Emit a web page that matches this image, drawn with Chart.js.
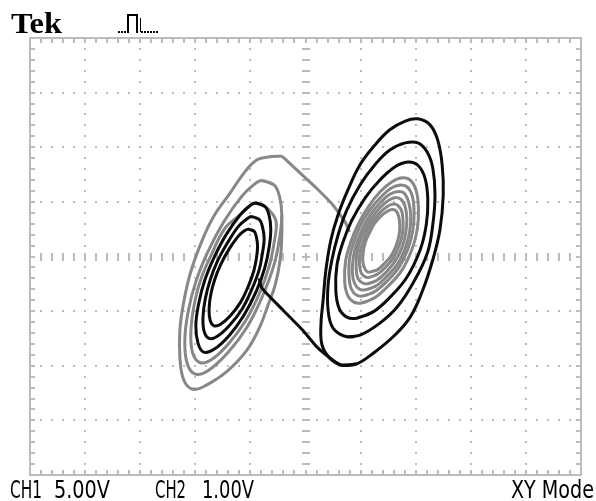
<!DOCTYPE html>
<html lang="en">
<head>
<meta charset="utf-8">
<title>Tek XY Mode</title>
<script src="https://cdn.jsdelivr.net/npm/chart.js@4.4.1/dist/chart.umd.min.js"></script>
<style>
  html, body { margin: 0; padding: 0; background: #fff; }
  #scope { display: block; }
</style>
</head>
<body>
<canvas id="scope" width="596" height="501"></canvas>
<script>
// screen is 10 x 8 divisions; every value is in divisions (X = CH1, Y = CH2)
const X_DIVS = 5, Y_DIVS = 4;
const CHANNEL_LABELS = ['CH1', '5.00V', 'CH2', '1.00V'];
const MODE_LABEL = 'XY Mode';
const BRAND = 'Tek';

// left scroll, black turns (inside out)
const lb1 = [[-1.04,0.50],[-0.93,0.46],[-0.89,0.35],[-0.87,0.19],[-0.89,-0.03],[-0.94,-0.27],[-1.04,-0.55],[-1.18,-0.84],[-1.36,-1.08],[-1.54,-1.24],[-1.66,-1.27],[-1.73,-1.17],[-1.75,-0.96],[-1.72,-0.70],[-1.65,-0.43],[-1.54,-0.15],[-1.39,0.13],[-1.23,0.36],[-1.11,0.47],[-1.04,0.50],[-0.93,0.46]];
const lb2 = [[-0.98,0.73],[-0.84,0.68],[-0.78,0.54],[-0.75,0.33],[-0.78,0.07],[-0.84,-0.24],[-0.97,-0.59],[-1.15,-0.96],[-1.37,-1.25],[-1.60,-1.46],[-1.75,-1.50],[-1.84,-1.37],[-1.86,-1.11],[-1.82,-0.78],[-1.73,-0.43],[-1.60,-0.09],[-1.41,0.26],[-1.21,0.56],[-1.06,0.69],[-0.98,0.73],[-0.84,0.68]];
const lb3 = [[-0.91,0.98],[-0.74,0.92],[-0.66,0.75],[-0.63,0.50],[-0.66,0.17],[-0.74,-0.21],[-0.89,-0.63],[-1.12,-1.08],[-1.38,-1.44],[-1.66,-1.70],[-1.85,-1.75],[-1.95,-1.59],[-1.99,-1.27],[-1.94,-0.87],[-1.83,-0.44],[-1.66,-0.02],[-1.44,0.40],[-1.18,0.77],[-1.01,0.93],[-0.91,0.98],[-0.74,0.92]];

// left scroll, gray turns
const lg1 = [[-0.91,0.98],[-0.74,0.92],[-0.60,0.78],[-0.53,0.62],[-0.57,0.25],[-0.66,-0.18],[-0.83,-0.66],[-1.09,-1.18],[-1.40,-1.60],[-1.71,-1.89],[-1.92,-1.94],[-2.05,-1.76],[-2.08,-1.39],[-2.03,-0.94],[-1.91,-0.45],[-1.71,0.03],[-1.46,0.52],[-1.18,0.77],[-1.01,0.93],[-0.91,0.98]];
const lg2 = [[-0.79,1.39],[-0.57,1.31],[-0.47,1.09],[-0.43,0.76],[-0.47,0.34],[-0.57,-0.15],[-0.77,-0.70],[-1.06,-1.29],[-1.41,-1.76],[-1.77,-2.09],[-2.01,-2.15],[-2.15,-1.95],[-2.19,-1.53],[-2.13,-1.01],[-1.99,-0.46],[-1.77,0.09],[-1.48,0.64],[-1.15,1.11],[-0.92,1.33],[-0.79,1.39],[-0.57,1.31]];
const lg3 = [[-0.43,0.76],[-0.43,0.39],[-0.46,-0.06],[-0.55,-0.52],[-0.68,-0.89],[-0.83,-1.29],[-1.06,-1.71],[-1.42,-2.10],[-1.79,-2.35],[-2.04,-2.43],[-2.21,-2.26],[-2.28,-1.84],[-2.28,-1.35],[-2.22,-0.89],[-2.10,-0.34],[-1.91,0.21],[-1.68,0.71],[-1.37,1.16],[-1.10,1.55],[-0.88,1.77],[-0.68,1.82],[-0.43,1.84]];

// jumps between the scrolls
const grayLink = [[-0.43,1.84],[-0.10,1.53],[0.21,1.24],[0.50,0.94],[0.72,0.63],[0.80,0.45]];
const blackLink = [[-0.84,-0.40],[-0.79,-0.58],[-0.41,-0.98],[-0.05,-1.35],[0.21,-1.66],[0.50,-1.90],[0.66,-1.99],[0.92,-1.97]];

// right scroll, black turns (outside in)
const rb1 = [[0.66,-1.99],[0.92,-1.97],[1.23,-1.77],[1.59,-1.47],[1.90,-1.11],[2.13,-0.61],[2.31,-0.06],[2.44,0.49],[2.50,1.13],[2.48,1.68],[2.40,2.13],[2.26,2.41],[2.04,2.52],[1.81,2.48],[1.53,2.32],[1.26,2.04],[0.99,1.68],[0.77,1.22],[0.59,0.76],[0.46,0.30],[0.37,-0.25],[0.32,-0.80],[0.28,-1.25],[0.30,-1.62],[0.44,-1.86],[0.66,-1.99],[0.92,-1.97]];
const rb2 = [[0.75,-1.47],[0.99,-1.44],[1.35,-1.22],[1.66,-0.93],[1.95,-0.49],[2.21,0.06],[2.31,0.58],[2.35,1.13],[2.31,1.62],[2.21,1.91],[2.04,2.08],[1.81,2.08],[1.53,1.95],[1.26,1.68],[0.99,1.31],[0.75,0.85],[0.59,0.39],[0.48,-0.06],[0.41,-0.52],[0.41,-0.98],[0.50,-1.31],[0.75,-1.47],[0.99,-1.44]];
const rb3 = [[0.93,-1.13],[1.22,-1.02],[1.53,-0.75],[1.84,-0.38],[2.08,0.12],[2.19,0.57],[2.22,1.03],[2.17,1.43],[2.04,1.67],[1.86,1.73],[1.62,1.64],[1.35,1.40],[1.08,1.07],[0.84,0.66],[0.68,0.26],[0.57,-0.16],[0.55,-0.62],[0.61,-0.95],[0.75,-1.11],[0.93,-1.13],[1.22,-1.02]];

// right scroll, gray turns
const rg1 = [[1.02,-0.85],[1.25,-0.76],[1.50,-0.54],[1.75,-0.25],[1.94,0.15],[2.03,0.51],[2.05,0.88],[2.01,1.20],[1.91,1.39],[1.76,1.44],[1.57,1.37],[1.35,1.18],[1.14,0.91],[0.95,0.58],[0.82,0.26],[0.73,-0.07],[0.71,-0.44],[0.76,-0.70],[0.87,-0.83],[1.02,-0.85],[1.25,-0.76]];
const rg2 = [[1.06,-0.72],[1.26,-0.64],[1.48,-0.45],[1.70,-0.19],[1.87,0.17],[1.95,0.49],[1.97,0.81],[1.94,1.10],[1.85,1.27],[1.72,1.31],[1.55,1.25],[1.36,1.08],[1.16,0.84],[0.99,0.55],[0.88,0.27],[0.80,-0.03],[0.79,-0.36],[0.83,-0.59],[0.93,-0.71],[1.06,-0.72],[1.26,-0.64]];
const rg3 = [[1.09,-0.61],[1.28,-0.54],[1.47,-0.37],[1.67,-0.14],[1.82,0.18],[1.89,0.46],[1.91,0.75],[1.87,1.00],[1.79,1.16],[1.68,1.19],[1.53,1.14],[1.36,0.99],[1.19,0.78],[1.04,0.52],[0.94,0.27],[0.87,0.00],[0.85,-0.29],[0.89,-0.49],[0.98,-0.60],[1.09,-0.61],[1.28,-0.54]];
const rg4 = [[1.13,-0.50],[1.29,-0.44],[1.46,-0.29],[1.63,-0.08],[1.76,0.19],[1.82,0.44],[1.84,0.69],[1.81,0.91],[1.74,1.04],[1.64,1.08],[1.51,1.03],[1.36,0.90],[1.21,0.71],[1.08,0.49],[0.99,0.27],[0.93,0.04],[0.92,-0.22],[0.95,-0.40],[1.03,-0.48],[1.13,-0.50],[1.29,-0.44]];
const rg5 = [[1.16,-0.38],[1.30,-0.33],[1.45,-0.20],[1.59,-0.03],[1.70,0.20],[1.76,0.42],[1.77,0.63],[1.75,0.82],[1.68,0.93],[1.60,0.96],[1.49,0.92],[1.36,0.81],[1.23,0.65],[1.12,0.46],[1.05,0.27],[0.99,0.07],[0.98,-0.14],[1.01,-0.30],[1.08,-0.37],[1.16,-0.38],[1.30,-0.33]];
const rg6 = [[1.19,-0.28],[1.31,-0.24],[1.43,-0.13],[1.56,0.02],[1.65,0.22],[1.70,0.40],[1.71,0.58],[1.69,0.74],[1.64,0.84],[1.57,0.86],[1.47,0.82],[1.36,0.73],[1.25,0.60],[1.16,0.43],[1.09,0.27],[1.05,0.10],[1.04,-0.08],[1.07,-0.21],[1.12,-0.28],[1.19,-0.28],[1.31,-0.24]];

const BLACK = '#0c0c0c';
const GRAY = '#878787';
const GRID = '#bcbcbc';

function trace(points, color, tension) {
  return {
    data: points.map(function(p) { return {x: p[0], y: p[1]}; }),
    showLine: true,
    borderColor: color,
    borderWidth: 3,
    pointRadius: 0,
    tension: tension,
    order: color === BLACK ? 0 : 1
  };
}

// graticule, border ticks and the scope's readouts
const screenPlugin = {
  id: 'screen',
  beforeDatasetsDraw: function(chart) {
    const ctx = chart.ctx, a = chart.chartArea;
    const xs = chart.scales.x, ys = chart.scales.y;
    ctx.save();
    ctx.fillStyle = GRID;
    // dotted division lines, five dots per division
    for (let i = -X_DIVS + 1; i < X_DIVS; i++) {
      if (i === 0) continue;
      const px = Math.round(xs.getPixelForValue(i));
      for (let k = -Y_DIVS * 5 + 1; k < Y_DIVS * 5; k++) {
        ctx.fillRect(px - 1, Math.round(ys.getPixelForValue(k / 5)) - 1, 2, 2);
      }
    }
    for (let j = -Y_DIVS + 1; j < Y_DIVS; j++) {
      if (j === 0) continue;
      const py = Math.round(ys.getPixelForValue(j));
      for (let k = -X_DIVS * 5 + 1; k < X_DIVS * 5; k++) {
        ctx.fillRect(Math.round(xs.getPixelForValue(k / 5)) - 1, py - 1, 2, 2);
      }
    }
    // centre axes with minor ticks
    const cx = Math.round(xs.getPixelForValue(0));
    const cy = Math.round(ys.getPixelForValue(0));
    for (let k = -X_DIVS * 5 + 1; k < X_DIVS * 5; k++) {
      const px = Math.round(xs.getPixelForValue(k / 5));
      ctx.fillRect(px - 1, cy - 4, 2, 8);
      ctx.fillRect(px - 1, a.top, 2, 5);
      ctx.fillRect(px - 1, a.bottom - 5, 2, 5);
    }
    for (let k = -Y_DIVS * 5 + 1; k < Y_DIVS * 5; k++) {
      const py = Math.round(ys.getPixelForValue(k / 5));
      ctx.fillRect(cx - 4, py - 1, 8, 2);
      ctx.fillRect(a.left, py - 1, 5, 2);
      ctx.fillRect(a.right - 5, py - 1, 5, 2);
    }
    ctx.strokeStyle = GRID;
    ctx.lineWidth = 2;
    ctx.strokeRect(a.left, a.top, a.right - a.left, a.bottom - a.top);
    ctx.restore();
  },
  afterDraw: function(chart) {
    const ctx = chart.ctx;
    ctx.save();
    ctx.fillStyle = '#000';
    ctx.textBaseline = 'alphabetic';
    ctx.font = 'bold 29px "Liberation Serif", "DejaVu Serif", serif';
    fitText(ctx, BRAND, 11, 33, 51);

    // trigger icon
    for (let d = 118; d < 127; d += 3) ctx.fillRect(d, 31, 2, 2);
    ctx.fillRect(127, 14, 2, 19);
    ctx.fillRect(127, 14, 11, 2);
    ctx.fillRect(136, 14, 2, 19);
    ctx.fillRect(140, 18, 1, 14);
    for (let d = 141; d < 157; d += 3) ctx.fillRect(d, 31, 2, 2);

    ctx.font = '24px "Liberation Sans Narrow", "DejaVu Sans Condensed", "Liberation Sans", sans-serif';
    fitText(ctx, CHANNEL_LABELS[0], 10, 498, 32);
    fitText(ctx, CHANNEL_LABELS[1], 54, 498, 56);
    fitText(ctx, CHANNEL_LABELS[2], 155, 498, 31);
    fitText(ctx, CHANNEL_LABELS[3], 202, 498, 52);
    fitText(ctx, MODE_LABEL, 511, 498, 83);
    ctx.restore();
  }
};

// squeeze a string into the given width
function fitText(ctx, text, x, baseline, width) {
  const w = ctx.measureText(text).width;
  ctx.save();
  ctx.translate(x, baseline);
  ctx.scale(width / w, 1);
  ctx.fillText(text, 0, 0);
  ctx.restore();
}

new Chart(document.getElementById('scope'), {
  type: 'scatter',
  data: {
    datasets: [
      trace(lb1, BLACK, 0.4), trace(lb2, BLACK, 0.4), trace(lb3, BLACK, 0.4),
      trace(blackLink, BLACK, 0.2),
      trace(rb1, BLACK, 0.4), trace(rb2, BLACK, 0.4), trace(rb3, BLACK, 0.4),
      trace(lg1, GRAY, 0.4), trace(lg2, GRAY, 0.4), trace(lg3, GRAY, 0.4),
      trace(grayLink, GRAY, 0.1),
      trace(rg1, GRAY, 0.4), trace(rg2, GRAY, 0.4), trace(rg3, GRAY, 0.4),
      trace(rg4, GRAY, 0.4), trace(rg5, GRAY, 0.4), trace(rg6, GRAY, 0.4)
    ]
  },
  options: {
    responsive: false,
    animation: false,
    layout: { padding: { left: 30, right: 15, top: 38, bottom: 26 } },
    plugins: { legend: { display: false }, tooltip: { enabled: false } },
    scales: {
      x: { type: 'linear', min: -X_DIVS, max: X_DIVS, display: false },
      y: { type: 'linear', min: -Y_DIVS, max: Y_DIVS, display: false }
    }
  },
  plugins: [screenPlugin]
});
</script>
</body>
</html>
